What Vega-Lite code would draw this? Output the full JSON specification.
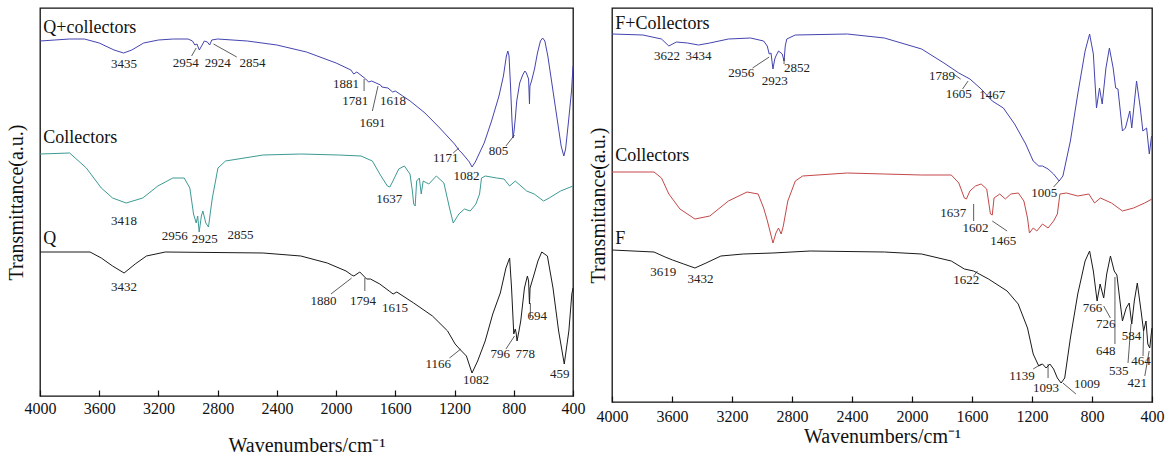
{
"$schema": "https://vega.github.io/schema/vega-lite/v6.json",
"background": "white",
"padding": {"left": 5, "top": 7, "right": 5, "bottom": 5},
"bounds": "flush",
"spacing": 39,
"config": {
 "view": {"stroke": "#111", "strokeWidth": 1.3},
 "axis": {"grid": false, "domain": false, "labelFont": "Liberation Serif", "titleFont": "Liberation Serif", "labelColor": "#111", "titleColor": "#111", "tickColor": "#111", "titleFontWeight": "normal", "labelFontSize": 16, "titleFontSize": 20},
 "text": {"font": "Liberation Serif", "fontSize": 13, "color": "#222"}
},
"datasets": {
 "L": [
  {"s":"Qc","w":4000,"t":355},{"s":"Qc","w":3900,"t":356},{"s":"Qc","w":3800,"t":357},{"s":"Qc","w":3700,"t":357},{"s":"Qc","w":3600,"t":353},{"s":"Qc","w":3500,"t":346},{"s":"Qc","w":3435,"t":343},{"s":"Qc","w":3380,"t":346},{"s":"Qc","w":3300,"t":353},{"s":"Qc","w":3200,"t":356},{"s":"Qc","w":3100,"t":357},{"s":"Qc","w":3000,"t":357},{"s":"Qc","w":2970,"t":355},{"s":"Qc","w":2954,"t":351},{"s":"Qc","w":2940,"t":352},{"s":"Qc","w":2924,"t":346},{"s":"Qc","w":2905,"t":351},{"s":"Qc","w":2890,"t":355},{"s":"Qc","w":2870,"t":354},{"s":"Qc","w":2854,"t":351},{"s":"Qc","w":2840,"t":356},{"s":"Qc","w":2800,"t":357},{"s":"Qc","w":2600,"t":355},{"s":"Qc","w":2400,"t":351},{"s":"Qc","w":2200,"t":344},{"s":"Qc","w":2000,"t":333},{"s":"Qc","w":1900,"t":326},{"s":"Qc","w":1881,"t":322},{"s":"Qc","w":1860,"t":324},{"s":"Qc","w":1800,"t":317},{"s":"Qc","w":1781,"t":314},{"s":"Qc","w":1760,"t":315},{"s":"Qc","w":1700,"t":311},{"s":"Qc","w":1691,"t":309},{"s":"Qc","w":1650,"t":308},{"s":"Qc","w":1618,"t":304},{"s":"Qc","w":1600,"t":305},{"s":"Qc","w":1550,"t":300},{"s":"Qc","w":1500,"t":295},{"s":"Qc","w":1400,"t":283},{"s":"Qc","w":1300,"t":268},{"s":"Qc","w":1200,"t":252},{"s":"Qc","w":1171,"t":246},{"s":"Qc","w":1150,"t":243},{"s":"Qc","w":1100,"t":234},{"s":"Qc","w":1082,"t":229},{"s":"Qc","w":1060,"t":234},{"s":"Qc","w":1000,"t":253},{"s":"Qc","w":950,"t":275},{"s":"Qc","w":900,"t":300},{"s":"Qc","w":870,"t":320},{"s":"Qc","w":850,"t":340},{"s":"Qc","w":840,"t":345},{"s":"Qc","w":832,"t":340},{"s":"Qc","w":822,"t":310},{"s":"Qc","w":812,"t":275},{"s":"Qc","w":805,"t":258},{"s":"Qc","w":798,"t":265},{"s":"Qc","w":790,"t":277},{"s":"Qc","w":780,"t":295},{"s":"Qc","w":760,"t":313},{"s":"Qc","w":740,"t":321},{"s":"Qc","w":725,"t":325},{"s":"Qc","w":715,"t":323},{"s":"Qc","w":700,"t":317},{"s":"Qc","w":697,"t":305},{"s":"Qc","w":694,"t":292},{"s":"Qc","w":691,"t":310},{"s":"Qc","w":680,"t":315},{"s":"Qc","w":660,"t":327},{"s":"Qc","w":640,"t":343},{"s":"Qc","w":620,"t":355},{"s":"Qc","w":605,"t":358},{"s":"Qc","w":590,"t":355},{"s":"Qc","w":570,"t":340},{"s":"Qc","w":540,"t":310},{"s":"Qc","w":510,"t":280},{"s":"Qc","w":480,"t":250},{"s":"Qc","w":462,"t":240},{"s":"Qc","w":450,"t":247},{"s":"Qc","w":430,"t":275},{"s":"Qc","w":410,"t":305},{"s":"Qc","w":400,"t":330},
  {"s":"Cl","w":4000,"t":242},{"s":"Cl","w":3800,"t":243},{"s":"Cl","w":3687,"t":228},{"s":"Cl","w":3586,"t":208},{"s":"Cl","w":3510,"t":198},{"s":"Cl","w":3418,"t":193},{"s":"Cl","w":3306,"t":198},{"s":"Cl","w":3204,"t":210},{"s":"Cl","w":3103,"t":218},{"s":"Cl","w":3026,"t":218},{"s":"Cl","w":2988,"t":208},{"s":"Cl","w":2963,"t":182},{"s":"Cl","w":2945,"t":173},{"s":"Cl","w":2935,"t":180},{"s":"Cl","w":2925,"t":164},{"s":"Cl","w":2910,"t":180},{"s":"Cl","w":2900,"t":185},{"s":"Cl","w":2880,"t":173},{"s":"Cl","w":2862,"t":169},{"s":"Cl","w":2848,"t":185},{"s":"Cl","w":2836,"t":198},{"s":"Cl","w":2798,"t":228},{"s":"Cl","w":2747,"t":235},{"s":"Cl","w":2493,"t":241},{"s":"Cl","w":2238,"t":242},{"s":"Cl","w":1984,"t":241},{"s":"Cl","w":1832,"t":240},{"s":"Cl","w":1755,"t":235},{"s":"Cl","w":1705,"t":222},{"s":"Cl","w":1654,"t":210},{"s":"Cl","w":1637,"t":209},{"s":"Cl","w":1616,"t":215},{"s":"Cl","w":1577,"t":227},{"s":"Cl","w":1539,"t":230},{"s":"Cl","w":1501,"t":222},{"s":"Cl","w":1485,"t":205},{"s":"Cl","w":1476,"t":192},{"s":"Cl","w":1466,"t":190},{"s":"Cl","w":1456,"t":215},{"s":"Cl","w":1438,"t":218},{"s":"Cl","w":1425,"t":202},{"s":"Cl","w":1412,"t":215},{"s":"Cl","w":1374,"t":212},{"s":"Cl","w":1323,"t":220},{"s":"Cl","w":1272,"t":213},{"s":"Cl","w":1234,"t":188},{"s":"Cl","w":1209,"t":173},{"s":"Cl","w":1171,"t":182},{"s":"Cl","w":1133,"t":187},{"s":"Cl","w":1094,"t":185},{"s":"Cl","w":1056,"t":192},{"s":"Cl","w":1031,"t":202},{"s":"Cl","w":1018,"t":218},{"s":"Cl","w":992,"t":220},{"s":"Cl","w":916,"t":218},{"s":"Cl","w":866,"t":217},{"s":"Cl","w":828,"t":210},{"s":"Cl","w":790,"t":215},{"s":"Cl","w":713,"t":205},{"s":"Cl","w":662,"t":202},{"s":"Cl","w":599,"t":195},{"s":"Cl","w":561,"t":198},{"s":"Cl","w":484,"t":205},{"s":"Cl","w":400,"t":210},
  {"s":"Q","w":4000,"t":144},{"s":"Q","w":3662,"t":144},{"s":"Q","w":3586,"t":138},{"s":"Q","w":3510,"t":130},{"s":"Q","w":3432,"t":123},{"s":"Q","w":3357,"t":132},{"s":"Q","w":3281,"t":140},{"s":"Q","w":3154,"t":144},{"s":"Q","w":2493,"t":143},{"s":"Q","w":2238,"t":140},{"s":"Q","w":2060,"t":133},{"s":"Q","w":1933,"t":125},{"s":"Q","w":1895,"t":121},{"s":"Q","w":1880,"t":120},{"s":"Q","w":1840,"t":124},{"s":"Q","w":1794,"t":117},{"s":"Q","w":1768,"t":117},{"s":"Q","w":1705,"t":112},{"s":"Q","w":1642,"t":105},{"s":"Q","w":1615,"t":102},{"s":"Q","w":1590,"t":104},{"s":"Q","w":1476,"t":93},{"s":"Q","w":1349,"t":80},{"s":"Q","w":1247,"t":65},{"s":"Q","w":1196,"t":52},{"s":"Q","w":1166,"t":47},{"s":"Q","w":1120,"t":40},{"s":"Q","w":1082,"t":23},{"s":"Q","w":1044,"t":35},{"s":"Q","w":993,"t":55},{"s":"Q","w":942,"t":82},{"s":"Q","w":891,"t":103},{"s":"Q","w":853,"t":128},{"s":"Q","w":828,"t":138},{"s":"Q","w":815,"t":108},{"s":"Q","w":800,"t":62},{"s":"Q","w":790,"t":67},{"s":"Q","w":784,"t":63},{"s":"Q","w":778,"t":55},{"s":"Q","w":765,"t":65},{"s":"Q","w":753,"t":75},{"s":"Q","w":728,"t":108},{"s":"Q","w":708,"t":120},{"s":"Q","w":700,"t":115},{"s":"Q","w":694,"t":92},{"s":"Q","w":690,"t":108},{"s":"Q","w":662,"t":122},{"s":"Q","w":637,"t":135},{"s":"Q","w":611,"t":144},{"s":"Q","w":573,"t":140},{"s":"Q","w":535,"t":108},{"s":"Q","w":497,"t":65},{"s":"Q","w":459,"t":32},{"s":"Q","w":428,"t":65},{"s":"Q","w":408,"t":102},{"s":"Q","w":400,"t":108}
 ],
 "R": [
  {"s":"Fc","w":4000,"t":368},{"s":"Fc","w":3794,"t":367},{"s":"Fc","w":3670,"t":363},{"s":"Fc","w":3621,"t":356},{"s":"Fc","w":3571,"t":360},{"s":"Fc","w":3497,"t":359},{"s":"Fc","w":3423,"t":357},{"s":"Fc","w":3348,"t":359},{"s":"Fc","w":3224,"t":363},{"s":"Fc","w":3076,"t":364},{"s":"Fc","w":2989,"t":361},{"s":"Fc","w":2965,"t":356},{"s":"Fc","w":2952,"t":348},{"s":"Fc","w":2940,"t":349},{"s":"Fc","w":2927,"t":333},{"s":"Fc","w":2915,"t":343},{"s":"Fc","w":2907,"t":346},{"s":"Fc","w":2890,"t":351},{"s":"Fc","w":2865,"t":348},{"s":"Fc","w":2853,"t":341},{"s":"Fc","w":2845,"t":356},{"s":"Fc","w":2835,"t":363},{"s":"Fc","w":2778,"t":367},{"s":"Fc","w":2431,"t":368},{"s":"Fc","w":2184,"t":364},{"s":"Fc","w":1936,"t":353},{"s":"Fc","w":1787,"t":339},{"s":"Fc","w":1688,"t":329},{"s":"Fc","w":1614,"t":323},{"s":"Fc","w":1539,"t":313},{"s":"Fc","w":1465,"t":301},{"s":"Fc","w":1391,"t":294},{"s":"Fc","w":1316,"t":278},{"s":"Fc","w":1242,"t":258},{"s":"Fc","w":1192,"t":241},{"s":"Fc","w":1155,"t":236},{"s":"Fc","w":1130,"t":236},{"s":"Fc","w":1093,"t":233},{"s":"Fc","w":1056,"t":228},{"s":"Fc","w":1019,"t":221},{"s":"Fc","w":994,"t":226},{"s":"Fc","w":944,"t":261},{"s":"Fc","w":895,"t":308},{"s":"Fc","w":846,"t":351},{"s":"Fc","w":816,"t":368},{"s":"Fc","w":791,"t":348},{"s":"Fc","w":770,"t":294},{"s":"Fc","w":750,"t":314},{"s":"Fc","w":732,"t":298},{"s":"Fc","w":707,"t":334},{"s":"Fc","w":684,"t":354},{"s":"Fc","w":659,"t":334},{"s":"Fc","w":642,"t":314},{"s":"Fc","w":627,"t":313},{"s":"Fc","w":597,"t":271},{"s":"Fc","w":577,"t":274},{"s":"Fc","w":548,"t":291},{"s":"Fc","w":535,"t":274},{"s":"Fc","w":503,"t":321},{"s":"Fc","w":478,"t":294},{"s":"Fc","w":461,"t":271},{"s":"Fc","w":436,"t":274},{"s":"Fc","w":418,"t":248},{"s":"Fc","w":403,"t":266},{"s":"Fc","w":400,"t":264},
  {"s":"Cr","w":4000,"t":230},{"s":"Cr","w":3720,"t":230},{"s":"Cr","w":3670,"t":224},{"s":"Cr","w":3621,"t":208},{"s":"Cr","w":3547,"t":193},{"s":"Cr","w":3447,"t":183},{"s":"Cr","w":3348,"t":186},{"s":"Cr","w":3224,"t":201},{"s":"Cr","w":3100,"t":210},{"s":"Cr","w":3026,"t":208},{"s":"Cr","w":2989,"t":194},{"s":"Cr","w":2964,"t":181},{"s":"Cr","w":2947,"t":171},{"s":"Cr","w":2927,"t":159},{"s":"Cr","w":2907,"t":169},{"s":"Cr","w":2890,"t":174},{"s":"Cr","w":2872,"t":168},{"s":"Cr","w":2858,"t":176},{"s":"Cr","w":2840,"t":191},{"s":"Cr","w":2828,"t":201},{"s":"Cr","w":2778,"t":221},{"s":"Cr","w":2729,"t":226},{"s":"Cr","w":2431,"t":229},{"s":"Cr","w":2184,"t":228},{"s":"Cr","w":1936,"t":227},{"s":"Cr","w":1738,"t":227},{"s":"Cr","w":1688,"t":219},{"s":"Cr","w":1651,"t":204},{"s":"Cr","w":1637,"t":203},{"s":"Cr","w":1614,"t":211},{"s":"Cr","w":1577,"t":216},{"s":"Cr","w":1539,"t":218},{"s":"Cr","w":1502,"t":213},{"s":"Cr","w":1477,"t":188},{"s":"Cr","w":1465,"t":187},{"s":"Cr","w":1453,"t":204},{"s":"Cr","w":1415,"t":208},{"s":"Cr","w":1378,"t":203},{"s":"Cr","w":1341,"t":208},{"s":"Cr","w":1291,"t":209},{"s":"Cr","w":1254,"t":201},{"s":"Cr","w":1230,"t":184},{"s":"Cr","w":1217,"t":169},{"s":"Cr","w":1192,"t":174},{"s":"Cr","w":1168,"t":171},{"s":"Cr","w":1130,"t":178},{"s":"Cr","w":1093,"t":174},{"s":"Cr","w":1056,"t":181},{"s":"Cr","w":1031,"t":188},{"s":"Cr","w":1014,"t":208},{"s":"Cr","w":970,"t":209},{"s":"Cr","w":895,"t":206},{"s":"Cr","w":821,"t":208},{"s":"Cr","w":783,"t":199},{"s":"Cr","w":744,"t":204},{"s":"Cr","w":670,"t":199},{"s":"Cr","w":597,"t":191},{"s":"Cr","w":523,"t":194},{"s":"Cr","w":449,"t":199},{"s":"Cr","w":400,"t":203},
  {"s":"F","w":4000,"t":152},{"s":"F","w":3720,"t":150},{"s":"F","w":3646,"t":145},{"s":"F","w":3596,"t":142},{"s":"F","w":3522,"t":138},{"s":"F","w":3447,"t":134},{"s":"F","w":3373,"t":139},{"s":"F","w":3274,"t":146},{"s":"F","w":3125,"t":148},{"s":"F","w":2927,"t":149},{"s":"F","w":2679,"t":151},{"s":"F","w":2184,"t":150},{"s":"F","w":1936,"t":148},{"s":"F","w":1738,"t":141},{"s":"F","w":1651,"t":133},{"s":"F","w":1589,"t":131},{"s":"F","w":1490,"t":123},{"s":"F","w":1366,"t":111},{"s":"F","w":1292,"t":98},{"s":"F","w":1230,"t":74},{"s":"F","w":1192,"t":48},{"s":"F","w":1155,"t":36},{"s":"F","w":1130,"t":38},{"s":"F","w":1106,"t":34},{"s":"F","w":1081,"t":38},{"s":"F","w":1056,"t":33},{"s":"F","w":1031,"t":24},{"s":"F","w":1006,"t":19},{"s":"F","w":982,"t":24},{"s":"F","w":944,"t":64},{"s":"F","w":895,"t":108},{"s":"F","w":846,"t":141},{"s":"F","w":816,"t":151},{"s":"F","w":791,"t":131},{"s":"F","w":766,"t":101},{"s":"F","w":746,"t":118},{"s":"F","w":722,"t":104},{"s":"F","w":702,"t":128},{"s":"F","w":677,"t":146},{"s":"F","w":652,"t":131},{"s":"F","w":634,"t":127},{"s":"F","w":616,"t":104},{"s":"F","w":597,"t":81},{"s":"F","w":572,"t":94},{"s":"F","w":552,"t":99},{"s":"F","w":535,"t":78},{"s":"F","w":518,"t":101},{"s":"F","w":498,"t":119},{"s":"F","w":473,"t":91},{"s":"F","w":456,"t":71},{"s":"F","w":440,"t":81},{"s":"F","w":428,"t":58},{"s":"F","w":415,"t":54},{"s":"F","w":403,"t":71},{"s":"F","w":400,"t":74}
 ],
 "Llab": [
  {"k":"3435","w":3433,"t":332},{"k":"2954","w":3015,"t":333},{"k":"2924","w":2800,"t":333},{"k":"2854","w":2565,"t":333},{"k":"1881","w":1933,"t":312},{"k":"1781","w":1870,"t":295},{"k":"1691","w":1755,"t":273},{"k":"1618","w":1616,"t":295},{"k":"1171","w":1260,"t":238},{"k":"1082","w":1120,"t":220},{"k":"805","w":904,"t":245},{"k":"1637","w":1641,"t":197},{"k":"3418","w":3433,"t":175},{"k":"2956","w":3090,"t":160},{"k":"2925","w":2887,"t":157},{"k":"2855","w":2645,"t":161},{"k":"3432","w":3433,"t":109},{"k":"1880","w":2086,"t":95},{"k":"1794","w":1819,"t":95},{"k":"1615","w":1603,"t":88},{"k":"1166","w":1310,"t":32},{"k":"1082","w":1056,"t":16},{"k":"796","w":891,"t":42},{"k":"778","w":722,"t":42},{"k":"694","w":642,"t":80},{"k":"459","w":490,"t":22}
 ],
 "Lnm": [{"k":"Q+collectors","w":3978,"t":368},{"k":"Collectors","w":3978,"t":258},{"k":"Q","w":3978,"t":157}],
 "Lld": [
  {"w":2976,"t":340,"w2":2945,"t2":348},{"w":2671,"t":339,"w2":2828,"t2":352},{"w":1811,"t":317,"w2":1811,"t2":305},{"w":1755,"t":285,"w2":1717,"t2":310},{"w":1209,"t":243,"w2":1171,"t2":248},{"w":853,"t":250,"w2":795,"t2":261},{"w":2035,"t":102,"w2":1895,"t2":118},{"w":1806,"t":118,"w2":1806,"t2":105},{"w":1234,"t":38,"w2":1158,"t2":47},{"w":853,"t":47,"w2":795,"t2":60},{"w":688,"t":93,"w2":688,"t2":78}
 ],
 "Rlab": [
  {"k":"3622","w":3633,"t":346},{"k":"3434","w":3423,"t":346},{"k":"2956","w":3138,"t":329},{"k":"2923","w":2915,"t":321},{"k":"2852","w":2766,"t":334},{"k":"1789","w":1800,"t":326},{"k":"1605","w":1688,"t":308},{"k":"1467","w":1465,"t":307},{"k":"1005","w":1118,"t":209},{"k":"1637","w":1725,"t":189},{"k":"1602","w":1577,"t":174},{"k":"1465","w":1391,"t":161},{"k":"3619","w":3658,"t":130},{"k":"3432","w":3410,"t":123},{"k":"1622","w":1638,"t":122},{"k":"766","w":796,"t":94},{"k":"726","w":709,"t":78},{"k":"584","w":536,"t":66},{"k":"648","w":709,"t":51},{"k":"535","w":621,"t":31},{"k":"464","w":474,"t":41},{"k":"421","w":498,"t":19},{"k":"1139","w":1267,"t":26},{"k":"1093","w":1106,"t":14},{"k":"1009","w":833,"t":18}
 ],
 "Rnm": [{"k":"F+Collectors","w":3978,"t":378},{"k":"Collectors","w":3978,"t":246},{"k":"F","w":3978,"t":163}],
 "Rld": [
  {"w":3063,"t":334,"w2":2952,"t2":345},{"w":2853,"t":338,"w2":2853,"t2":344},{"w":1725,"t":328,"w2":1676,"t2":323},{"w":1663,"t":313,"w2":1626,"t2":321},{"w":1056,"t":215,"w2":1014,"t2":222},{"w":1589,"t":198,"w2":1589,"t2":181},{"w":1465,"t":181,"w2":1366,"t2":171},{"w":1589,"t":126,"w2":1564,"t2":131},{"w":722,"t":96,"w2":677,"t2":84},{"w":647,"t":125,"w2":647,"t2":58},{"w":560,"t":39,"w2":540,"t2":78},{"w":460,"t":46,"w2":456,"t2":71},{"w":448,"t":26,"w2":419,"t2":51},{"w":1192,"t":33,"w2":1138,"t2":38},{"w":1093,"t":24,"w2":1093,"t2":38},{"w":994,"t":19,"w2":907,"t2":8}
 ]
},
"hconcat": [
 {
  "width": 533, "height": 388,
  "layer": [
   {"data": {"name": "L"}, "mark": {"type": "line", "strokeWidth": 1},
    "encoding": {
     "x": {"field": "w", "type": "quantitative", "scale": {"domain": [400, 4000], "reverse": true, "nice": false, "zero": false},
       "axis": {"title": "Wavenumbers/cm⁻¹", "values": [400,600,800,1000,1200,1400,1600,1800,2000,2200,2400,2600,2800,3000,3200,3400,3600,3800,4000], "format": "d", "labelExpr": "datum.value % 400 === 0 ? datum.label : ''", "labelFlush": false, "labelOverlap": false, "tickSize": {"condition": {"test": "datum.value % 400 === 0", "value": -6}, "value": -3}, "tickWidth": 1.2, "labelPadding": 10, "titlePadding": 19}},
     "y": {"field": "t", "type": "quantitative", "scale": {"domain": [0, 388], "nice": false, "zero": false},
       "axis": {"title": "Transmittance(a.u.)", "labels": false, "ticks": false, "titlePadding": 14}},
     "color": {"field": "s", "type": "nominal", "legend": null, "scale": {"domain": ["Qc","Cl","Q","Fc","Cr","F"], "range": ["#4444b0","#3d9a94","#1a1a1a","#4444b0","#c44848","#1a1a1a"]}}
    }},
   {"data": {"name": "Lld"}, "mark": {"type": "rule", "strokeWidth": 0.8, "color": "#333"},
    "encoding": {"x": {"field": "w", "type": "quantitative"}, "y": {"field": "t", "type": "quantitative"}, "x2": {"field": "w2"}, "y2": {"field": "t2"}}},
   {"data": {"name": "Llab"}, "mark": {"type": "text", "fontSize": 13, "align": "center", "baseline": "middle"},
    "encoding": {"x": {"field": "w", "type": "quantitative"}, "y": {"field": "t", "type": "quantitative"}, "text": {"field": "k"}}},
   {"data": {"name": "Lnm"}, "mark": {"type": "text", "fontSize": 18, "align": "left", "baseline": "middle", "color": "#111"},
    "encoding": {"x": {"field": "w", "type": "quantitative"}, "y": {"field": "t", "type": "quantitative"}, "text": {"field": "k"}}}
  ]
 },
 {
  "width": 540, "height": 394,
  "layer": [
   {"data": {"name": "R"}, "mark": {"type": "line", "strokeWidth": 1},
    "encoding": {
     "x": {"field": "w", "type": "quantitative", "scale": {"domain": [400, 4000], "reverse": true, "nice": false, "zero": false},
       "axis": {"title": "Wavenumbers/cm⁻¹", "values": [400,600,800,1000,1200,1400,1600,1800,2000,2200,2400,2600,2800,3000,3200,3400,3600,3800,4000], "format": "d", "labelExpr": "datum.value % 400 === 0 ? datum.label : ''", "labelFlush": false, "labelOverlap": false, "tickSize": {"condition": {"test": "datum.value % 400 === 0", "value": -6}, "value": -3}, "tickWidth": 1.2, "labelPadding": 12, "titlePadding": 2}},
     "y": {"field": "t", "type": "quantitative", "scale": {"domain": [0, 394], "nice": false, "zero": false},
       "axis": {"title": "Transmittance(a.u.)", "labels": false, "ticks": false, "titlePadding": 4}},
     "color": {"field": "s", "type": "nominal", "legend": null, "scale": {"domain": ["Qc","Cl","Q","Fc","Cr","F"], "range": ["#4444b0","#3d9a94","#1a1a1a","#4444b0","#c44848","#1a1a1a"]}}
    }},
   {"data": {"name": "Rld"}, "mark": {"type": "rule", "strokeWidth": 0.8, "color": "#333"},
    "encoding": {"x": {"field": "w", "type": "quantitative"}, "y": {"field": "t", "type": "quantitative"}, "x2": {"field": "w2"}, "y2": {"field": "t2"}}},
   {"data": {"name": "Rlab"}, "mark": {"type": "text", "fontSize": 13, "align": "center", "baseline": "middle"},
    "encoding": {"x": {"field": "w", "type": "quantitative"}, "y": {"field": "t", "type": "quantitative"}, "text": {"field": "k"}}},
   {"data": {"name": "Rnm"}, "mark": {"type": "text", "fontSize": 18, "align": "left", "baseline": "middle", "color": "#111"},
    "encoding": {"x": {"field": "w", "type": "quantitative"}, "y": {"field": "t", "type": "quantitative"}, "text": {"field": "k"}}}
  ]
 }
]
}
